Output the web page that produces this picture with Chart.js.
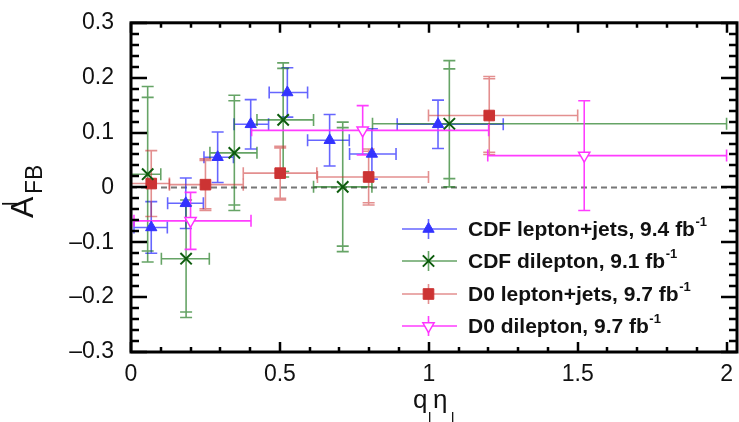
<!DOCTYPE html>
<html><head><meta charset="utf-8">
<script src="https://cdn.jsdelivr.net/npm/chart.js@4/dist/chart.umd.min.js"></script>
<style>html,body{margin:0;padding:0;background:#fff;overflow:hidden}#wrap{width:739px;height:422px;position:relative}</style>
</head><body><div id="wrap"><canvas id="c" width="739" height="422"></canvas></div>
<script>
// ---- tick labels ----
const xTickValues = [0, 0.5, 1, 1.5, 2];
const xTickLabels = ['0', '0.5', '1', '1.5', '2'];
const yTickValues = [-0.3, -0.2, -0.1, 0, 0.1, 0.2, 0.3];
const yTickLabels = ['\u20130.3', '\u20130.2', '\u20130.1', '0', '0.1', '0.2', '0.3'];

// ---- series names ----
const seriesNames = ['CDF lepton+jets, 9.4 fb', 'CDF dilepton, 9.1 fb', 'D0 lepton+jets, 9.7 fb', 'D0 dilepton, 9.7 fb'];

// ---- CDF lepton+jets ----
const cdfLjX    = [0.068, 0.184, 0.291, 0.402, 0.525, 0.667, 0.809, 1.031];
const cdfLjXLo  = [0.01, 0.123, 0.245, 0.346, 0.464, 0.593, 0.734, 0.894];
const cdfLjXHi  = [0.122, 0.243, 0.344, 0.462, 0.593, 0.733, 0.890, 1.250];
const cdfLjY    = [-0.073, -0.029, 0.055, 0.115, 0.173, 0.086, 0.061, 0.115];
const cdfLjErr  = [0.047, 0.046, 0.046, 0.045, 0.045, 0.047, 0.046, 0.044];

// ---- CDF dilepton ----
const cdfDlX    = [0.056, 0.185, 0.347, 0.511, 0.711, 1.069];
const cdfDlXLo  = [0.0, 0.102, 0.265, 0.423, 0.613, 0.811];
const cdfDlXHi  = [0.100, 0.263, 0.423, 0.613, 0.809, 2.0];
const cdfDlY    = [0.024, -0.130, 0.063, 0.123, 0.001, 0.116];
const cdfDlErr  = [0.160, 0.107, 0.105, 0.104, 0.118, 0.115];
const cdfDlStat = [0.140, 0.097, 0.095, 0.094, 0.108, 0.100];

// ---- D0 lepton+jets ----
const d0LjX     = [0.068, 0.250, 0.501, 0.798, 1.203];
const d0LjXLo   = [0.0, 0.129, 0.377, 0.626, 0.999];
const d0LjXHi   = [0.129, 0.377, 0.624, 0.999, 1.500];
const d0LjY     = [0.007, 0.005, 0.026, 0.019, 0.131];
const d0LjErr   = [0.060, 0.047, 0.049, 0.051, 0.071];
const d0LjStat  = [0.060, 0.044, 0.046, 0.047, 0.067];

// ---- D0 dilepton ----
const d0DlX     = [0.200, 0.778, 1.522];
const d0DlXLo   = [0.01, 0.405, 1.198];
const d0DlXHi   = [0.403, 1.201, 2.0];
const d0DlY     = [-0.061, 0.104, 0.058];
const d0DlErr   = [0.052, 0.045, 0.100];

const pts = (xs, ys) => xs.map((x, i) => ({x: x, y: ys[i]}));

const series = [
  {label: seriesNames[0], data: pts(cdfLjX, cdfLjY), xlo: cdfLjXLo, xhi: cdfLjXHi, err: cdfLjErr, stat: null,
   color: '#3333ff', barColor: 'rgba(51,51,255,0.75)', pointStyle: 'triangle', radius: 6.5, rotation: 0, bg: '#3333ff', bw: 1},
  {label: seriesNames[1], data: pts(cdfDlX, cdfDlY), xlo: cdfDlXLo, xhi: cdfDlXHi, err: cdfDlErr, stat: cdfDlStat,
   color: '#0d5c0d', barColor: 'rgba(20,115,20,0.65)', pointStyle: 'crossRot', radius: 8, rotation: 0, bg: '#0d5c0d', bw: 2},
  {label: seriesNames[2], data: pts(d0LjX, d0LjY), xlo: d0LjXLo, xhi: d0LjXHi, err: d0LjErr, stat: d0LjStat,
   color: '#cc3333', barColor: 'rgba(204,51,51,0.55)', pointStyle: 'rect', radius: 7.5, rotation: 0, bg: '#cc3333', bw: 1},
  {label: seriesNames[3], data: pts(d0DlX, d0DlY), xlo: d0DlXLo, xhi: d0DlXHi, err: d0DlErr, stat: null,
   color: '#ff33ff', barColor: 'rgba(255,40,255,0.9)', pointStyle: 'triangle', radius: 6.5, rotation: 180, bg: '#ffffff', bw: 1.5}
];

const FONT = '"Liberation Sans", Arial, sans-serif';

const errorBars = {
  id: 'errorBars',
  beforeDatasetsDraw(chart) {
    const {ctx, chartArea: a, scales: {x, y}} = chart;
    ctx.save();
    ctx.beginPath(); ctx.rect(a.left, a.top, a.right - a.left, a.bottom - a.top); ctx.clip();
    ctx.strokeStyle = '#777'; ctx.lineWidth = 2; ctx.setLineDash([6, 4]);
    ctx.beginPath(); ctx.moveTo(a.left, y.getPixelForValue(0)); ctx.lineTo(a.right, y.getPixelForValue(0)); ctx.stroke();
    ctx.setLineDash([]);
    const cap = 6;
    series.forEach(s => {
      ctx.strokeStyle = s.barColor; ctx.lineWidth = 1.6;
      s.data.forEach((p, i) => {
        const px = x.getPixelForValue(p.x), py = y.getPixelForValue(p.y);
        const xl = x.getPixelForValue(s.xlo[i]), xh = x.getPixelForValue(s.xhi[i]);
        const yt = y.getPixelForValue(p.y + s.err[i]), yb = y.getPixelForValue(p.y - s.err[i]);
        ctx.beginPath();
        ctx.moveTo(xl, py); ctx.lineTo(xh, py);
        ctx.moveTo(xl, py - cap); ctx.lineTo(xl, py + cap);
        ctx.moveTo(xh, py - cap); ctx.lineTo(xh, py + cap);
        ctx.moveTo(px, yt); ctx.lineTo(px, yb);
        ctx.moveTo(px - cap, yt); ctx.lineTo(px + cap, yt);
        ctx.moveTo(px - cap, yb); ctx.lineTo(px + cap, yb);
        if (s.stat) {
          const st = y.getPixelForValue(p.y + s.stat[i]), sb = y.getPixelForValue(p.y - s.stat[i]);
          ctx.moveTo(px - cap, st); ctx.lineTo(px + cap, st);
          ctx.moveTo(px - cap, sb); ctx.lineTo(px + cap, sb);
        }
        ctx.stroke();
      });
    });
    ctx.restore();
  }
};

const frame = {
  id: 'frame',
  afterDraw(chart) {
    const {ctx, chartArea: a, scales: {x, y}} = chart;
    ctx.save();
    ctx.strokeStyle = '#000'; ctx.lineCap = 'butt';
    ctx.lineWidth = 2.5;
    for (let k = -15; k <= 15; k++) {
      const v = k / 50;
      const py = Math.round(y.getPixelForValue(v));
      const len = (k % 5 === 0) ? 16 : 8;
      ctx.beginPath();
      ctx.moveTo(a.left, py); ctx.lineTo(a.left + len, py);
      ctx.moveTo(a.right, py); ctx.lineTo(a.right - len, py);
      ctx.stroke();
    }
    for (let k = 0; k <= 20; k++) {
      const v = k / 10;
      const px = Math.round(x.getPixelForValue(v));
      const len = (k % 5 === 0) ? 10 : 5;
      ctx.beginPath();
      ctx.moveTo(px, a.bottom); ctx.lineTo(px, a.bottom - len);
      ctx.moveTo(px, a.top); ctx.lineTo(px, a.top + len);
      ctx.stroke();
    }
    ctx.lineWidth = 3;
    ctx.strokeRect(a.left, a.top, a.right - a.left, a.bottom - a.top);

    // Axis titles
    ctx.fillStyle = '#111';
    ctx.textBaseline = 'alphabetic';
    ctx.save();
    ctx.translate(33, 218);
    ctx.rotate(-Math.PI / 2);
    ctx.textAlign = 'left';
    ctx.font = '32px ' + FONT;
    ctx.fillText('A', 0, 0);
    ctx.font = '20px ' + FONT;
    ctx.fillText('l', 12, -16);
    ctx.font = '23px ' + FONT;
    ctx.fillText('FB', 24, 9);
    ctx.restore();
    ctx.textAlign = 'left';
    ctx.font = '26px ' + FONT;
    ctx.fillText('q', 413, 408);
    ctx.fillText('\u03b7', 433, 408);
    ctx.font = '15px ' + FONT;
    ctx.fillText('l', 428, 423);
    ctx.fillText('l', 451, 423);

    // Legend
    const rows = [229, 261, 294, 326];
    series.forEach((s, i) => {
      const ry = rows[i];
      ctx.strokeStyle = s.barColor; ctx.lineWidth = 1.6;
      ctx.beginPath();
      ctx.moveTo(402, ry); ctx.lineTo(457, ry);
      ctx.moveTo(428.5, ry - 10); ctx.lineTo(428.5, ry + 10);
      ctx.stroke();
      ctx.fillStyle = s.bg; ctx.strokeStyle = s.color; ctx.lineWidth = s.bw;
      Chart.helpers.drawPoint(ctx, {pointStyle: s.pointStyle, radius: s.radius, rotation: s.rotation, borderWidth: s.bw}, 428.5, ry);
      ctx.fillStyle = '#111';
      ctx.font = 'bold 21px ' + FONT;
      ctx.textAlign = 'left'; ctx.textBaseline = 'middle';
      ctx.fillText(s.label, 468, ry + 1);
      const w = ctx.measureText(s.label).width;
      ctx.font = 'bold 13px ' + FONT;
      ctx.fillText('-1', 468 + w + 0.5, ry - 7);
    });
    ctx.restore();
  }
};

const chart = new Chart(document.getElementById('c'), {
  type: 'scatter',
  data: {
    datasets: series.map(s => ({
      label: s.label,
      data: s.data,
      pointStyle: s.pointStyle,
      pointRadius: s.radius,
      pointRotation: s.rotation,
      pointBackgroundColor: s.bg,
      pointBorderColor: s.color,
      pointBorderWidth: s.bw,
      showLine: false,
      clip: false
    }))
  },
  options: {
    responsive: false,
    animation: false,
    events: [],
    layout: {autoPadding: false, padding: {top: 22, right: 2, left: 0, bottom: 0}},
    plugins: {legend: {display: false}, tooltip: {enabled: false}, title: {display: false}},
    scales: {
      x: {
        type: 'linear', min: 0, max: 2.035,
        grid: {display: false}, border: {display: false},
        afterBuildTicks: sc => { sc.ticks = xTickValues.map(v => ({value: v})); },
        afterFit: sc => { sc.height = 70; },
        ticks: {
          padding: 1, color: '#111', maxRotation: 0, autoSkip: false,
          font: {family: FONT, size: 23},
          callback: (v) => { const i = xTickValues.findIndex(t => Math.abs(t - v) < 1e-6); return i >= 0 ? xTickLabels[i] : ''; }
        }
      },
      y: {
        type: 'linear', min: -0.3, max: 0.3,
        grid: {display: false}, border: {display: false},
        afterBuildTicks: sc => { sc.ticks = yTickValues.map(v => ({value: v})); },
        afterFit: sc => { sc.width = 131; },
        ticks: {
          padding: 9, color: '#111', autoSkip: false,
          font: {family: FONT, size: 23},
          callback: (v) => { const i = yTickValues.findIndex(t => Math.abs(t - v) < 1e-6); return i >= 0 ? yTickLabels[i] : ''; }
        }
      }
    }
  },
  plugins: [errorBars, frame]
});
</script>
</body></html>
